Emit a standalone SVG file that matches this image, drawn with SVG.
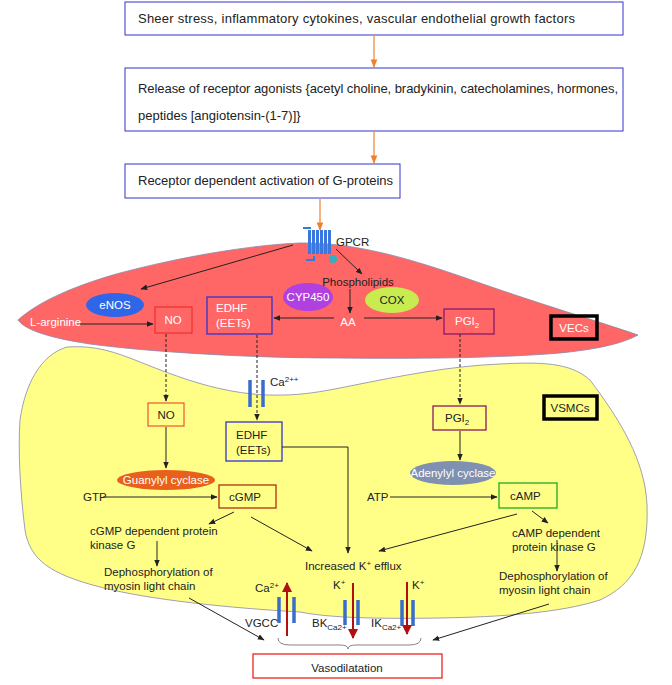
<svg xmlns="http://www.w3.org/2000/svg" width="672" height="685" viewBox="0 0 672 685">
<style>
text{font-family:"Liberation Sans",Arial,sans-serif;font-size:11.5px;fill:#222}
.top{font-size:13px}
.w{fill:#fff}
.tb{fill:#fff;stroke:#3333cc;stroke-width:1}
.ln{stroke:#222;stroke-width:1;fill:none}
.dash{stroke:#222;stroke-width:1;fill:none;stroke-dasharray:3,2}
.or{stroke:#f08030;stroke-width:1.2;fill:none}
.bar{stroke:#3a6ccc;stroke-width:3.5}
.red{stroke:#b01010;stroke-width:2;fill:none}
</style>
<defs>
<marker id="a" viewBox="0 0 10 10" refX="9" refY="5" markerWidth="7" markerHeight="7" orient="auto"><path d="M0,1L10,5L0,9Z" fill="#222"/></marker>
<marker id="o" viewBox="0 0 10 10" refX="9" refY="5" markerWidth="7" markerHeight="7" orient="auto"><path d="M0,1L10,5L0,9Z" fill="#f08030"/></marker>
<marker id="r" viewBox="0 0 10 10" refX="9" refY="5" markerWidth="5" markerHeight="5" orient="auto"><path d="M0,0L10,5L0,10Z" fill="#b01010"/></marker>
</defs>
<g id="cells">
<path d="M18,320 C40,300 80,284 120,273 C180,257 250,245 300,243 C360,242 420,262 480,283 C540,304 600,322 638,335 C620,345 590,350 560,353 C500,358 420,359 336,358 C250,358 150,352 90,344 C50,338 25,330 18,320Z" fill="#ff6666" stroke="#8888aa" stroke-width="0.8"/>
<path d="M20,420 C25,385 40,355 67,347 C95,345 115,352 140,362 C180,378 220,393 267,395 C300,396 320,392 350,386 C400,376 450,366 500,364 C540,362 570,362 590,380 C620,420 645,460 647,505 C649,560 632,585 600,600 C560,613 500,617 440,618 C380,619 330,618 300,612 C230,608 150,600 100,587 C50,574 30,560 25,530 C20,490 18,450 20,420Z" fill="#ffff88" stroke="#8888aa" stroke-width="0.8"/>
</g>
<g id="n1"><rect x="125" y="2" width="498" height="33" class="tb"/><text class="top" x="138" y="23" textLength="437">Sheer stress, inflammatory cytokines, vascular endothelial growth factors</text></g>
<g id="n2"><rect x="125" y="68" width="498" height="63" class="tb"/><text class="top" x="138" y="93" textLength="480">Release of receptor agonists {acetyl choline, bradykinin, catecholamines, hormones,</text><text class="top" x="138" y="120">peptides [angiotensin-(1-7)]}</text></g>
<g id="n3"><rect x="125" y="164" width="275" height="34" class="tb"/><text class="top" x="138" y="185">Receptor dependent activation of G-proteins</text></g>
<g id="gpcr">
<g fill="#3a78e0"><rect x="308" y="230" width="3" height="24"/><rect x="312" y="230" width="3" height="24"/><rect x="316" y="230" width="3" height="24"/><rect x="320" y="230" width="3" height="24"/><rect x="324" y="230" width="3" height="24"/><rect x="328" y="230" width="3" height="24"/></g>
<path d="M303,228 h8 M314,256 v4 h-8" stroke="#3a78e0" stroke-width="2" fill="none"/>
<circle cx="333" cy="259" r="4" fill="#30b0c0"/>
<text x="336" y="246">GPCR</text></g>
<g id="enos"><ellipse cx="115" cy="305" rx="29" ry="12" fill="#2f66e8"/><text class="w" x="115" y="309" text-anchor="middle">eNOS</text></g>
<g id="cyp"><ellipse cx="308" cy="297" rx="25" ry="14" fill="#b040e0"/><text class="w" x="308" y="301" text-anchor="middle">CYP450</text></g>
<g id="cox"><ellipse cx="392" cy="300" rx="27" ry="13" fill="#c8ec50"/><text x="392" y="304" text-anchor="middle">COX</text></g>
<g id="phos"><text x="358" y="286" text-anchor="middle">Phospholipids</text></g>
<g id="larg"><text class="w" x="30" y="326">L-arginine</text></g>
<g id="no1"><rect x="155" y="307" width="37" height="26" fill="none" stroke="#ee2222"/><text class="w" x="173" y="324" text-anchor="middle">NO</text></g>
<g id="edhf1"><rect x="207" y="297" width="65" height="37" fill="none" stroke="#3333cc" stroke-width="1.3"/><text class="w" x="216" y="312">EDHF</text><text class="w" x="216" y="327">(EETs)</text></g>
<g id="aa"><text class="w" x="348" y="326" text-anchor="middle">AA</text></g>
<g id="pgi1"><rect x="444" y="309" width="50" height="25" fill="none" stroke="#8a1a6a" stroke-width="1.3"/><text class="w" x="455" y="325">PGI<tspan font-size="8" dy="3">2</tspan></text></g>
<g id="vecs"><rect x="551" y="316" width="46" height="23" fill="none" stroke="#000" stroke-width="3.5"/><text class="w" x="574" y="332" text-anchor="middle">VECs</text></g>
<g id="ca"><line x1="250" y1="380" x2="250" y2="407" class="bar"/><line x1="263" y1="380" x2="263" y2="407" class="bar"/><text x="270" y="386">Ca<tspan font-size="8" dy="-4">2++</tspan></text></g>
<g id="vsmcs"><rect x="544" y="396" width="53" height="23" fill="none" stroke="#000" stroke-width="3.5"/><text x="570" y="412" text-anchor="middle">VSMCs</text></g>
<g id="no2"><rect x="148" y="403" width="36" height="23" fill="none" stroke="#ee3322"/><text x="166" y="419" text-anchor="middle">NO</text></g>
<g id="edhf2"><rect x="226" y="422" width="56" height="39" fill="none" stroke="#3333cc" stroke-width="1.3"/><text x="236" y="439">EDHF</text><text x="236" y="454">(EETs)</text></g>
<g id="pgi2"><rect x="433" y="406" width="53" height="24" fill="none" stroke="#8a1a5a" stroke-width="1.3"/><text x="445" y="422">PGI<tspan font-size="8" dy="3">2</tspan></text></g>
<g id="gc"><ellipse cx="166" cy="480" rx="49" ry="10" fill="#e8601c"/><text class="w" x="166" y="484" text-anchor="middle">Guanylyl cyclase</text></g>
<g id="ac"><ellipse cx="453" cy="473" rx="43" ry="12" fill="#7f90b0"/><text class="w" x="453" y="477" text-anchor="middle">Adenylyl cyclase</text></g>
<g id="gtp"><text x="83" y="501">GTP</text></g>
<g id="atp"><text x="367" y="501">ATP</text></g>
<g id="cgmp"><rect x="219" y="485" width="57" height="23" fill="none" stroke="#b03010" stroke-width="1.3"/><text x="229" y="501">cGMP</text></g>
<g id="camp"><rect x="499" y="483" width="58" height="25" fill="none" stroke="#22aa22" stroke-width="1.3"/><text x="510" y="500">cAMP</text></g>
<g id="pkg"><text x="90" y="535">cGMP dependent protein</text><text x="90" y="549">kinase G</text></g>
<g id="pkga"><text x="512" y="537">cAMP dependent</text><text x="512" y="551">protein kinase G</text></g>
<g id="dl"><text x="104" y="576">Dephosphorylation of</text><text x="104" y="590">myosin light chain</text></g>
<g id="dr"><text x="499" y="580">Dephosphorylation of</text><text x="499" y="594">myosin light chain</text></g>
<g id="kef"><text x="305" y="570">Increased K<tspan font-size="8" dy="-4">+</tspan><tspan dy="4"> efflux</tspan></text></g>
<g id="channels">
<line x1="279" y1="597" x2="279" y2="623" class="bar"/><line x1="294" y1="597" x2="294" y2="623" class="bar"/>
<line x1="345" y1="600" x2="345" y2="625" class="bar"/><line x1="358" y1="600" x2="358" y2="625" class="bar"/>
<line x1="402" y1="600" x2="402" y2="626" class="bar"/><line x1="413" y1="600" x2="413" y2="626" class="bar"/>
<text x="255" y="592">Ca<tspan font-size="8" dy="-4">2+</tspan></text>
<text x="333" y="589">K<tspan font-size="8" dy="-4">+</tspan></text>
<text x="412" y="589">K<tspan font-size="8" dy="-4">+</tspan></text>
<text x="245" y="627">VGCC</text>
<text x="312" y="627">BK<tspan font-size="8" dy="3">Ca2+</tspan></text>
<text x="371" y="627">IK<tspan font-size="8" dy="3">Ca2+</tspan></text>
</g>
<g id="vaso"><rect x="253" y="654" width="189" height="24" fill="#fff" stroke="#ee2222" stroke-width="1.3"/><text x="347" y="672" text-anchor="middle" font-size="18">Vasodilatation</text></g>
<g id="connectors">
<line x1="374" y1="36" x2="374" y2="67" class="or" marker-end="url(#o)"/>
<line x1="374" y1="132" x2="374" y2="163" class="or" marker-end="url(#o)"/>
<line x1="320" y1="199" x2="320" y2="230" class="or" marker-end="url(#o)"/>
<line x1="293" y1="245" x2="141" y2="289" class="ln" marker-end="url(#a)"/>
<line x1="336" y1="249" x2="362" y2="274" class="ln" marker-end="url(#a)"/>
<line x1="350" y1="289" x2="350" y2="313" class="ln" marker-end="url(#a)"/>
<line x1="80" y1="324" x2="153" y2="324" class="ln" marker-end="url(#a)"/>
<line x1="334" y1="318" x2="274" y2="318" class="ln" marker-end="url(#a)"/>
<line x1="364" y1="318" x2="442" y2="318" class="ln" marker-end="url(#a)"/>
<line x1="166" y1="334" x2="166" y2="401" class="dash" marker-end="url(#a)"/>
<line x1="257" y1="335" x2="257" y2="420" class="dash" marker-end="url(#a)"/>
<line x1="460" y1="334" x2="460" y2="404" class="dash" marker-end="url(#a)"/>
<line x1="166" y1="427" x2="166" y2="468" class="ln" marker-end="url(#a)"/>
<line x1="460" y1="431" x2="460" y2="460" class="ln" marker-end="url(#a)"/>
<line x1="103" y1="497" x2="217" y2="497" class="ln" marker-end="url(#a)"/>
<line x1="390" y1="497" x2="497" y2="497" class="ln" marker-end="url(#a)"/>
<line x1="234" y1="512" x2="209" y2="524" class="ln" marker-end="url(#a)"/>
<line x1="251" y1="517" x2="312" y2="551" class="ln" marker-end="url(#a)"/>
<polyline points="282,447 348,447 348,553" class="ln" marker-end="url(#a)"/>
<line x1="517" y1="514" x2="379" y2="551" class="ln" marker-end="url(#a)"/>
<line x1="532" y1="511" x2="548" y2="523" class="ln" marker-end="url(#a)"/>
<line x1="157" y1="541" x2="157" y2="566" class="ln" marker-end="url(#a)"/>
<line x1="557" y1="540" x2="557" y2="571" class="ln" marker-end="url(#a)"/>
<line x1="189" y1="598" x2="264" y2="640" class="ln" marker-end="url(#a)"/>
<line x1="549" y1="604" x2="433" y2="640" class="ln" marker-end="url(#a)"/>
<line x1="287" y1="636" x2="287" y2="583" class="red" marker-end="url(#r)"/>
<line x1="353" y1="583" x2="353" y2="638" class="red" marker-end="url(#r)"/>
<line x1="407" y1="582" x2="407" y2="634" class="red" marker-end="url(#r)"/>
<path d="M278,638 Q278,645 290,645 L340,645 Q348,645 348,649 Q348,645 356,645 L409,645 Q421,645 421,638" fill="none" stroke="#666" stroke-width="0.8"/>
</g>
</svg>
